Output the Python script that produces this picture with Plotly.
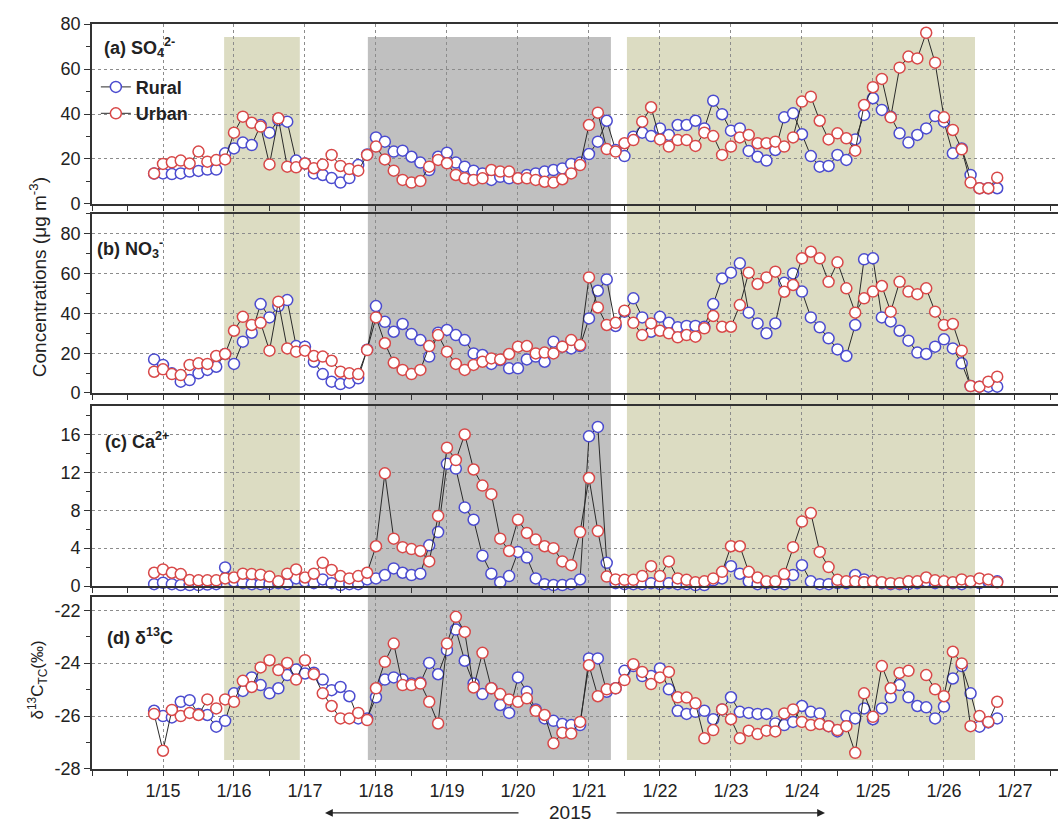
import plotly.graph_objects as go
import pandas as pd

# ---------------- data (3-hourly samples starting 2015-01-14 21:00) ----------------
times = pd.date_range("2015-01-14 21:00", periods=96, freq="3h")
day_ticks = [f"2015-01-{d:02d}" for d in range(15, 28)]
day_labels = [f"1/{d}" for d in range(15, 28)]
d13c_ticks = [-28, -26, -24, -22]
d13c_tick_labels = ["-28", "-26", "-24", "-22"]

so4_urban = [13.6, 17.8, 18.5, 19.3, 18.0, 23.3, 18.8, 19.5,
             19.8, 31.7, 38.8, 36.1, 34.4, 17.6, 38.1, 16.6,
             16.3, 18.0, 15.9, 17.5, 21.8, 16.9, 15.5, 14.8,
             21.8, 25.5, 19.8, 14.8, 10.7, 9.5, 10.2, 16.6,
             19.6, 18.1, 12.9, 11.4, 10.7, 11.4, 15.1, 14.4,
             14.4, 11.4, 11.4, 10.7, 9.9, 9.5, 11.0, 13.6,
             17.3, 35.1, 40.6, 24.4, 23.3, 27.0, 28.4, 36.6,
             43.0, 28.7, 25.5, 28.4, 28.4, 25.8, 31.7, 30.2,
             21.8, 25.5, 29.6, 30.7, 27.0, 27.0, 27.7, 25.5,
             29.6, 45.5, 47.7, 37.0, 28.7, 31.4, 29.2, 23.7,
             44.0, 51.9, 55.6, 38.5, 60.6, 65.5, 64.7, 76.1,
             62.8, 38.5, 32.9, 24.3, 9.5, 7.0, 7.0, 11.7]
so4_rural = [13.5, 13.6, 13.3, 13.6, 14.4, 14.7, 15.3, 15.3,
             22.5, 24.7, 27.3, 26.2, 35.1, 31.7, 37.3, 36.6,
             19.3, 18.0, 13.6, 12.9, 11.5, 9.5, 11.5, 17.3,
             22.0, 29.6, 27.7, 23.3, 23.7, 21.0, 18.4, 15.1,
             21.0, 22.8, 18.4, 16.6, 14.8, 13.6, 10.7, 12.1,
             11.4, 11.4, 12.9, 13.6, 14.4, 15.1, 15.8, 17.8,
             18.4, 22.2, 27.7, 37.0, 24.0, 21.3, 29.9, 31.7,
             30.2, 33.6, 30.7, 35.1, 35.1, 37.0, 33.6, 45.9,
             39.9, 32.6, 33.6, 23.6, 21.0, 19.3, 24.0, 38.5,
             40.3, 31.0, 21.3, 16.6, 16.9, 21.8, 19.6, 28.7,
             39.6, 47.0, 41.8, 38.8, 31.4, 27.3, 30.7, 33.6,
             39.1, 36.6, 22.5, 24.7, 12.9, 7.0, 7.0, 7.0]

no3_urban = [10.7, 11.9, 9.5, 9.0, 14.1, 14.9, 14.6, 18.6,
             19.6, 31.3, 38.3, 34.2, 35.3, 21.3, 45.9, 22.4,
             20.8, 21.3, 18.6, 18.3, 16.2, 10.7, 9.9, 9.5,
             21.6, 38.0, 25.0, 15.2, 11.6, 9.5, 11.6, 23.6,
             29.1, 20.8, 14.6, 11.6, 14.1, 15.7, 17.4, 16.9,
             19.6, 23.3, 23.6, 19.9, 20.3, 19.9, 23.3, 26.6,
             24.1, 58.1, 43.0, 34.2, 35.3, 41.4, 35.3, 29.1,
             35.0, 31.3, 30.0, 28.0, 29.1, 28.3, 32.5, 38.7,
             33.3, 33.3, 44.2, 60.5, 54.8, 58.1, 61.0, 50.9,
             54.3, 67.7, 71.0, 67.7, 55.9, 65.7, 52.6, 40.4,
             47.6, 51.0, 53.8, 40.9, 55.9, 51.0, 49.7, 52.6,
             40.9, 34.2, 34.7, 21.3, 3.5, 3.2, 5.7, 8.2]
no3_rural = [16.9, 14.1, 9.9, 5.7, 6.5, 9.9, 11.6, 13.2,
             19.6, 14.6, 25.8, 30.3, 44.7, 38.0, 43.7, 46.7,
             23.6, 23.3, 15.7, 9.5, 5.7, 4.5, 5.2, 7.4,
             21.8, 43.7, 35.8, 30.8, 34.7, 29.6, 26.6, 18.3,
             30.3, 31.7, 29.1, 26.6, 19.9, 19.1, 14.6, 16.6,
             12.4, 12.4, 16.9, 18.3, 15.7, 25.8, 23.3, 22.4,
             23.6, 37.5, 51.4, 57.1, 33.7, 40.9, 47.6, 38.0,
             30.8, 38.3, 35.3, 33.0, 33.7, 33.7, 33.3, 44.7,
             57.6, 60.5, 65.2, 40.4, 35.0, 30.0, 35.0, 55.4,
             60.1, 51.0, 38.0, 33.0, 27.5, 21.9, 18.6, 34.2,
             67.2, 67.7, 38.0, 36.0, 31.3, 26.3, 20.3, 19.6,
             23.3, 27.0, 22.4, 14.9, 3.5, 3.2, 3.2, 3.2]

ca_urban = [1.4, 1.75, 1.4, 1.26, 0.63, 0.6, 0.6, 0.6,
            0.8, 0.9, 1.3, 1.26, 1.2, 1.0, 0.5, 1.3,
            1.75, 0.9, 1.3, 2.45, 1.7, 1.05, 0.8, 1.05,
            1.4, 4.2, 11.9, 5.0, 4.1, 3.9, 3.7, 2.6,
            7.4, 14.6, 13.3, 16.0, 12.3, 10.6, 9.7, 5.0,
            3.7, 7.0, 5.6, 4.9, 4.2, 4.0, 2.6, 2.2,
            5.7, 11.4, 5.8, 1.0, 0.7, 0.65, 0.65, 1.05,
            2.1, 1.05, 2.6, 0.8, 0.65, 0.4, 0.5, 0.8,
            1.5, 4.2, 4.2, 1.5, 0.9, 0.5, 0.5, 1.26,
            4.1, 6.8, 7.7, 3.6, 2.0, 0.65, 0.5, 0.5,
            0.4, 0.5, 0.4, 0.3, 0.3, 0.5, 0.5, 0.9,
            0.6, 0.5, 0.4, 0.7, 0.5, 0.8, 0.7, 0.4]
ca_rural = [0.2, 0.35, 0.2, 0.1, 0.1, 0.1, 0.15, 0.2,
            1.96, 0.5, 0.3, 0.2, 0.2, 0.2, 0.3, 0.2,
            0.8, 0.5, 0.3, 0.7, 0.3, 0.1, 0.2, 0.2,
            0.7, 0.8, 1.16, 1.86, 1.4, 1.16, 1.3, 4.3,
            5.7, 12.9, 12.4, 8.3, 7.0, 3.2, 1.3, 0.4,
            1.05, 3.6, 3.0, 0.8, 0.2, 0.1, 0.1, 0.2,
            0.7, 15.8, 16.8, 2.45, 0.3, 0.2, 0.2, 0.2,
            0.3, 0.2, 0.3, 0.2, 0.2, 0.1, 0.1, 0.6,
            0.8, 2.1, 1.3, 0.5, 0.2, 0.3, 0.2, 0.2,
            1.16, 2.2, 0.5, 0.2, 0.2, 0.3, 0.3, 1.16,
            0.7, 0.5, 0.3, 0.2, 0.2, 0.2, 0.3, 0.5,
            0.3, 0.4, 0.3, 0.2, 0.4, 0.3, 0.5, 0.5]

d13c_urban = [-25.92, -27.31, -25.77, -26.0, -25.88, -25.96, -25.37, -25.71,
              -25.37, -25.46, -24.67, -24.9, -24.16, -23.89, -24.26, -23.99,
              -24.62, -23.89, -24.42, -25.14, -25.62, -26.09, -26.09, -25.88,
              -26.15, -24.95, -23.95, -23.26, -24.83, -24.83, -24.77, -25.46,
              -26.28, -23.26, -22.25, -22.82, -24.92, -23.61, -24.95, -25.17,
              -25.37, -25.46, -25.33, -25.8, -25.96, -27.03, -26.63, -26.66,
              -26.22, -24.08, -25.25, -24.99, -24.95, -24.64, -24.04, -24.33,
              -24.79, -24.54, -24.33, -25.29, -25.3, -25.52, -26.84, -26.53,
              -25.75, -26.12, -26.84, -26.55, -26.68, -26.55, -26.58, -25.9,
              -25.75, -26.22, -26.34, -26.3, -26.38, -26.53, -26.38, -27.39,
              -25.14, -26.03, -24.11, -24.95, -24.37, -24.29, None, -24.45,
              -24.99, -25.25, -23.57, -24.01, -26.38, -26.0, -26.22, -25.46]
d13c_rural = [-25.8, -26.0, -26.05, -25.46, -25.4, -25.92, -25.96, -26.4,
              -26.18, -25.14, -25.05, -24.54, -24.83, -25.14, -24.95, -24.45,
              -24.24, -24.39, -24.36, -24.62, -25.02, -24.9, -25.25, -26.09,
              -26.09, -25.29, -24.62, -24.54, -24.62, -24.77, -24.74, -23.99,
              -24.42, -23.51, -22.73, -23.91, -24.77, -25.17, -24.95, -25.58,
              -25.88, -24.54, -25.08, -25.75, -26.09, -26.18, -26.3, -26.34,
              -26.34, -23.82, -23.82, -25.08, -24.95, -24.29, -24.11, -24.49,
              -24.49, -24.2, -24.99, -25.8, -25.92, -25.84, -25.8, -26.12,
              -25.75, -25.29, -25.84, -25.88, -25.92, -25.92, -26.28, -26.34,
              -26.22, -25.62, -25.84, -25.9, -26.38, -26.58, -26.0, -26.09,
              -25.71, -26.12, -25.71, -25.29, -24.83, -25.29, -25.62, -25.67,
              -26.09, -25.64, -24.58, -24.11, -25.14, -26.4, -26.24, -26.09]

# shaded episodes (start, end, kind)
episodes = [("2015-01-15 20:40", "2015-01-16 22:15", "olive"),
            ("2015-01-17 21:15", "2015-01-21 07:25", "gray"),
            ("2015-01-21 12:50", "2015-01-26 10:30", "olive")]

panel_labels = ["<b>(a) SO<sub>4</sub><sup>2-</sup></b>",
                "<b>(b) NO<sub>3</sub><sup>-</sup></b>",
                "<b>(c) Ca<sup>2+</sup></b>",
                "<b>(d) δ<sup>13</sup>C</b>"]

# ---------------- styling ----------------
FONT = "Liberation Sans, Arial, sans-serif"
BLUE = "#4b4bcf"
RED = "#d84848"
LINE = "#2a2a2a"
AX = "#333333"
GRID = "#8c8c8c"
OLIVE = "#dcdcc2"
GRAY = "#c0c0c0"

domains = [(0.7584, 1.0), (0.5047, 0.745), (0.2456, 0.4872), (0.0, 0.2309)]
yranges = [(0, 80), (0, 90), (0, 19), (-28, -21.5)]
ydticks = [20, 20, 4, 2]
yminor = [10, 10, 2, 1]
series = [(so4_rural, so4_urban), (no3_rural, no3_urban),
          (ca_rural, ca_urban), (d13c_rural, d13c_urban)]
label_pos = [(0.0104, 0.9678), (0.0031, 0.6993), (0.0114, 0.4416), (0.0135, 0.1785)]

xrange = ["2015-01-14 00:00", "2015-01-27 14:33"]

fig = go.Figure()
for k, (rural, urban) in enumerate(series):
    xa = "x" if k == 0 else f"x{k+1}"
    ya = "y" if k == 0 else f"y{k+1}"
    for name, vals, col in (("<b>Rural</b>", rural, BLUE), ("<b>Urban</b>", urban, RED)):
        fig.add_trace(go.Scatter(
            x=times, y=vals, xaxis=xa, yaxis=ya, mode="lines+markers",
            name=name, showlegend=(k == 0), legendgroup=name,
            line=dict(color=LINE, width=1),
            marker=dict(symbol="circle", size=11, color="white",
                        line=dict(color=col, width=1.5)),
            cliponaxis=False, connectgaps=False))

layout = dict(
    width=1058, height=823,
    margin=dict(l=92, r=0, t=24, b=54),
    paper_bgcolor="white", plot_bgcolor="rgba(0,0,0,0)",
    font=dict(family=FONT, size=18, color="#222222"),
    showlegend=True,
    legend=dict(x=0.004, y=0.94, xanchor="left", yanchor="top",
                bgcolor="rgba(0,0,0,0)", font=dict(size=18, color="#222222"),
                itemwidth=30, tracegroupgap=0),
)
for k in range(4):
    xkey = "xaxis" if k == 0 else f"xaxis{k+1}"
    ykey = "yaxis" if k == 0 else f"yaxis{k+1}"
    ya = "y" if k == 0 else f"y{k+1}"
    xa = "x" if k == 0 else f"x{k+1}"
    layout[xkey] = dict(
        domain=[0, 1], anchor=ya, type="date", range=xrange,
        tickmode="array", tickvals=day_ticks, ticktext=day_labels,
        showticklabels=(k == 3), tickfont=dict(size=18),
        ticks="outside", ticklen=5, tickwidth=1.2, tickcolor=AX,
        minor=dict(tickmode="linear", tick0="2015-01-14", dtick=43200000,
                   ticks="outside", ticklen=5, tickwidth=1.2, tickcolor=AX,
                   showgrid=False),
        showline=True, mirror=True, linecolor=AX, linewidth=1.6,
        showgrid=True, gridcolor=GRID, griddash="dot", gridwidth=1,
        zeroline=False)
    ydict = dict(
        domain=list(domains[k]), anchor=xa, range=list(yranges[k]),
        tickmode="linear", dtick=ydticks[k], tick0=0,
        ticks="outside", ticklen=6, tickwidth=1.2, tickcolor=AX,
        minor=dict(tickmode="linear", dtick=yminor[k], tick0=0, ticks="outside",
                   ticklen=4, tickwidth=1.2, tickcolor=AX, showgrid=False),
        showline=True, linecolor=AX, linewidth=1.6,
        showgrid=True, gridcolor=GRID, griddash="dot", gridwidth=1,
        zeroline=False, tickfont=dict(size=18))
    if k == 3:
        ydict.update(tickmode="array", tickvals=d13c_ticks, ticktext=d13c_tick_labels)
    layout[ykey] = ydict

fig.update_layout(**layout)

shapes = []
for x0, x1, kind in episodes:
    shapes.append(dict(type="rect", xref="x", yref="paper", x0=x0, x1=x1,
                       y0=0.012, y1=0.9826, fillcolor=OLIVE if kind == "olive" else GRAY,
                       line=dict(width=0), layer="below"))
fig.update_layout(shapes=shapes)

ann = []
for lab, (lx, ly) in zip(panel_labels, label_pos):
    ann.append(dict(text=lab, x=lx, y=ly, xref="paper", yref="paper",
                    xanchor="left", yanchor="middle", showarrow=False,
                    font=dict(size=18, color="#222222")))
ann.append(dict(text="Concentrations (μg m<sup>-3</sup>)", x=-0.056, y=0.66,
                xref="paper", yref="paper", textangle=-90, showarrow=False,
                xanchor="center", yanchor="middle", font=dict(size=19)))
ann.append(dict(text="δ<sup>13</sup>C<sub>TC</sub>(‰)", x=-0.056, y=0.12,
                xref="paper", yref="paper", textangle=-90, showarrow=False,
                xanchor="center", yanchor="middle", font=dict(size=17)))
ann.append(dict(text="2015", x=0.4948, y=-0.058, xref="paper", yref="paper",
                showarrow=False, xanchor="center", yanchor="middle", font=dict(size=19)))
ann.append(dict(text="", x=0.2412, y=-0.059, xref="paper", yref="paper",
                showarrow=True, ax=195, ay=0, arrowhead=2, arrowsize=1.3,
                arrowwidth=1.2, arrowcolor="#222222"))
ann.append(dict(text="", x=0.7588, y=-0.059, xref="paper", yref="paper",
                showarrow=True, ax=-210, ay=0, arrowhead=2, arrowsize=1.3,
                arrowwidth=1.2, arrowcolor="#222222"))
fig.update_layout(annotations=ann)

fig.write_html("out.html")
